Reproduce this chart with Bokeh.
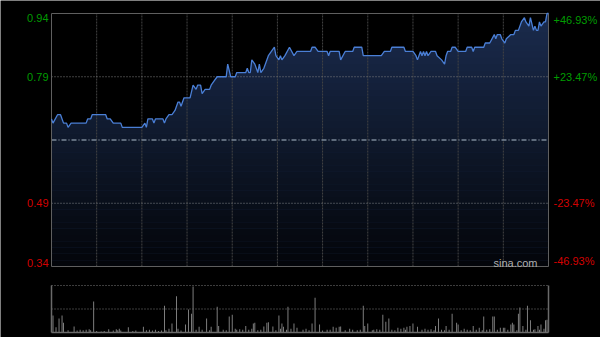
from bokeh.plotting import figure
from bokeh.models import Range1d
from bokeh.core.properties import value
from bokeh.embed import file_html
from bokeh.resources import INLINE

# ---------------- data ----------------
# minute of the trading session (0..330) and last price
times = [0, 1, 4, 6, 8, 10, 11, 13, 23, 24,
         26, 27, 36, 37, 39, 41, 46, 47, 60, 62,
         63, 64, 67, 68, 69, 74, 75, 76, 78, 80,
         82, 84, 85, 86, 88, 92, 94, 96, 97, 99,
         100, 102, 105, 106, 108, 110, 116, 117, 119, 122,
         123, 129, 130, 131, 132, 133, 135, 137, 138, 139,
         141, 144, 146, 148, 149, 151, 152, 153, 155, 158,
         161, 163, 172, 173, 175, 177, 183, 184, 185, 191,
         192, 195, 200, 201, 206, 207, 219, 221, 225, 226,
         234, 235, 240, 242, 243, 245, 246, 247, 248, 249,
         250, 252, 255, 256, 259, 261, 262, 263, 265, 266,
         268, 270, 275, 276, 279, 280, 281, 287, 288, 291,
         294, 295, 296, 298, 299, 301, 302, 305, 307, 308,
         310, 312, 314, 315, 317, 318, 320, 321, 322, 323,
         324, 325, 327, 328, 329, 330]
prices = [0.69, 0.68, 0.70, 0.70, 0.68, 0.68, 0.67, 0.68, 0.68, 0.69,
          0.69, 0.70, 0.70, 0.69, 0.69, 0.68, 0.68, 0.67, 0.67, 0.68,
          0.67, 0.69, 0.69, 0.68, 0.69, 0.69, 0.68, 0.69, 0.70, 0.70,
          0.71, 0.73, 0.73, 0.72, 0.74, 0.74, 0.77, 0.76, 0.77, 0.77,
          0.75, 0.76, 0.76, 0.77, 0.78, 0.79, 0.79, 0.82, 0.79, 0.79,
          0.80, 0.80, 0.81, 0.80, 0.80, 0.83, 0.82, 0.80, 0.82, 0.80,
          0.81, 0.84, 0.85, 0.86, 0.84, 0.83, 0.84, 0.83, 0.84, 0.86,
          0.84, 0.85, 0.85, 0.86, 0.86, 0.85, 0.85, 0.84, 0.85, 0.85,
          0.83, 0.85, 0.85, 0.86, 0.86, 0.84, 0.84, 0.85, 0.85, 0.86,
          0.86, 0.85, 0.85, 0.84, 0.83, 0.85, 0.84, 0.85, 0.84, 0.85,
          0.84, 0.85, 0.85, 0.84, 0.83, 0.82, 0.84, 0.85, 0.85, 0.86,
          0.86, 0.85, 0.85, 0.86, 0.86, 0.85, 0.86, 0.86, 0.87, 0.87,
          0.89, 0.88, 0.89, 0.89, 0.88, 0.87, 0.88, 0.89, 0.89, 0.90,
          0.90, 0.92, 0.93, 0.92, 0.91, 0.93, 0.90, 0.91, 0.90, 0.90,
          0.92, 0.91, 0.92, 0.92, 0.94, 0.94]

vol_minutes = [1, 3, 5, 7, 8, 11, 15, 17, 19, 21,
               23, 25, 26, 28, 30, 33, 35, 38, 41, 43,
               44, 45, 46, 51, 54, 56, 61, 63, 65, 67,
               69, 71, 73, 75, 76, 78, 80, 83, 84, 86,
               89, 91, 93, 94, 96, 98, 100, 103, 105, 106,
               110, 111, 114, 116, 118, 120, 122, 123, 125, 127,
               129, 131, 133, 134, 135, 137, 139, 141, 143, 144,
               147, 149, 151, 152, 153, 154, 156, 157, 159, 161,
               163, 167, 169, 171, 173, 175, 178, 180, 183, 185,
               187, 189, 191, 192, 195, 198, 200, 203, 205, 207,
               208, 210, 213, 214, 216, 218, 220, 222, 224, 226,
               228, 230, 232, 234, 235, 236, 238, 240, 243, 246,
               248, 250, 252, 254, 255, 257, 259, 261, 262, 264,
               266, 269, 270, 272, 274, 276, 278, 280, 282, 284,
               286, 287, 289, 291, 293, 294, 296, 298, 300, 301,
               303, 305, 306, 307, 309, 310, 311, 313, 315, 316,
               318, 320, 321, 323, 324, 325, 327, 328, 329]
vol_values = [36, 11, 30, 36, 21, 5, 13, 4, 6, 5,
              6, 7, 5, 66, 3, 2, 3, 7, 4, 7,
              5, 8, 4, 11, 3, 4, 12, 5, 6, 4,
              6, 3, 4, 57, 5, 8, 19, 77, 8, 4,
              17, 49, 40, 98, 6, 12, 6, 30, 5, 12,
              55, 14, 6, 5, 34, 38, 8, 6, 7, 6,
              14, 6, 8, 19, 21, 5, 6, 13, 21, 22,
              13, 5, 36, 8, 19, 12, 6, 55, 8, 19,
              10, 6, 8, 5, 19, 74, 17, 4, 6, 6,
              12, 10, 12, 13, 5, 8, 6, 5, 6, 57,
              14, 19, 5, 6, 7, 6, 38, 23, 30, 6,
              5, 10, 8, 10, 6, 12, 14, 19, 12, 6,
              8, 6, 7, 5, 14, 30, 6, 5, 14, 6,
              40, 21, 17, 5, 8, 6, 5, 14, 6, 10,
              5, 34, 6, 7, 34, 34, 6, 10, 10, 10,
              6, 17, 21, 17, 5, 40, 53, 14, 6, 57,
              26, 6, 7, 14, 6, 17, 8, 26, 27]

prev_close = 0.64
price_ticks = [0.94, 0.79, 0.49, 0.34]
price_labels = ["0.94", "0.79", "0.49", "0.34"]
pct_labels = ["+46.93%", "+23.47%", "-23.47%", "-46.93%"]
grid_minutes = [30, 60, 90, 120, 150, 180, 210, 240, 270, 300]
vol_max = 100
vol_mid = 50

FONT = "Liberation Sans"
GREEN = "#009c00"
RED = "#d40000"

# session / price domain of the main panel
x0, x1 = 0, 330
y0, y1 = 0.34, 0.94

# canvas geometry (pixels) -> ranges that put the panels where the reference has them
W, H = 600, 337
PL, PR, PT, PB = 51, 548, 13, 266         # price panel box
VT, VB = 285, 332                          # volume panel top / bottom
mpp = (x1 - x0) / (PR - PL)                # minutes per pixel
ppp = (y1 - y0) / (PB - PT)                # price per pixel
vpp = vol_max / (VB - VT)                  # volume per pixel

xr = Range1d(x0 - PL * mpp, x1 + (W - PR) * mpp)
yr = Range1d(y0 - (H - PB) * ppp, y1 + PT * ppp)

p = figure(width=W, height=H, x_range=xr, y_range=yr,
           output_backend="svg", toolbar_location=None,
           min_border=0, min_border_left=0, min_border_right=0,
           min_border_top=0, min_border_bottom=0)
p.extra_y_ranges = {"vol": Range1d(0 - (H - VB) * vpp, vol_max + VT * vpp)}
p.xaxis.visible = False
p.yaxis.visible = False
p.xgrid.visible = False
p.ygrid.visible = False
p.background_fill_color = "black"
p.border_fill_color = "black"
p.outline_line_color = None

# area under the price line
p.varea(x=times, y1=[y0] * len(times), y2=prices, fill_color="#1b2c4e", fill_alpha=1)

# vertical darkening gradient (style bands)
nb = 40
edges = [y0 + (y1 - y0) * i / nb for i in range(nb + 1)]
for i in range(nb):
    frac = 1 - (i + 0.5) / nb  # 1 at bottom, 0 at top
    p.quad(left=x0, right=x1, bottom=edges[i], top=edges[i + 1],
           fill_color="black", fill_alpha=0.88 * frac, line_color=None)

# grid lines
p.segment(x0=grid_minutes, x1=grid_minutes, y0=[y0] * len(grid_minutes), y1=[y1] * len(grid_minutes),
          line_color="#444444", line_width=1, line_dash="2 1")
hy = [price_ticks[1], price_ticks[2]]
p.segment(x0=[x0] * 2, x1=[x1] * 2, y0=hy, y1=hy, line_color="#808080", line_width=1, line_dash="1 2")
p.segment(x0=[x0], x1=[x1], y0=[prev_close], y1=[prev_close],
          line_color="#7a8696", line_width=1.3, line_dash="5 2 1 2")

# panel border
p.quad(left=x0, right=x1, bottom=y0, top=y1, fill_color=None, line_color="#5f5f5f", line_width=1)

# price line
p.line(times, prices, line_color="#4a7fd6", line_width=1.3)

# axis labels
baselines = ["top", "middle", "middle", "bottom"]
for t, lab, pl, bl in zip(price_ticks, price_labels, pct_labels, baselines):
    col = GREEN if t > prev_close else RED
    p.text(x=[x0 - 3 * mpp], y=[t], text=[lab], text_align="right", text_baseline=bl,
           text_color=col, text_font=value(FONT), text_font_size="11px")
    p.text(x=[x1 + 5 * mpp], y=[t], text=[pl], text_align="left", text_baseline=bl,
           text_color=col, text_font=value(FONT), text_font_size="11px")

p.text(x=[x1 - 11 * mpp], y=[y0 + 4 * ppp], text=["sina.com"], text_align="right",
       text_baseline="middle", text_color="#b0b0b0", text_font=value(FONT), text_font_size="11px")

# ---------------- volume panel ----------------
p.vbar(x=vol_minutes, top=vol_values, bottom=0, width=0.6, fill_color="#8a8a8a", line_color=None,
       y_range_name="vol")
p.segment(x0=[x0, x0], x1=[x1, x1], y0=[vol_max, vol_mid], y1=[vol_max, vol_mid],
          line_color="#7a7a7a", line_width=1, line_dash="1 2", y_range_name="vol")
p.segment(x0=[x0, x0, x1], x1=[x1, x0, x1], y0=[0, 0, 0], y1=[0, vol_max, vol_max],
          line_color="#6a6a6a", line_width=1.5, y_range_name="vol")

open("out.html", "w").write(file_html(p, INLINE))
